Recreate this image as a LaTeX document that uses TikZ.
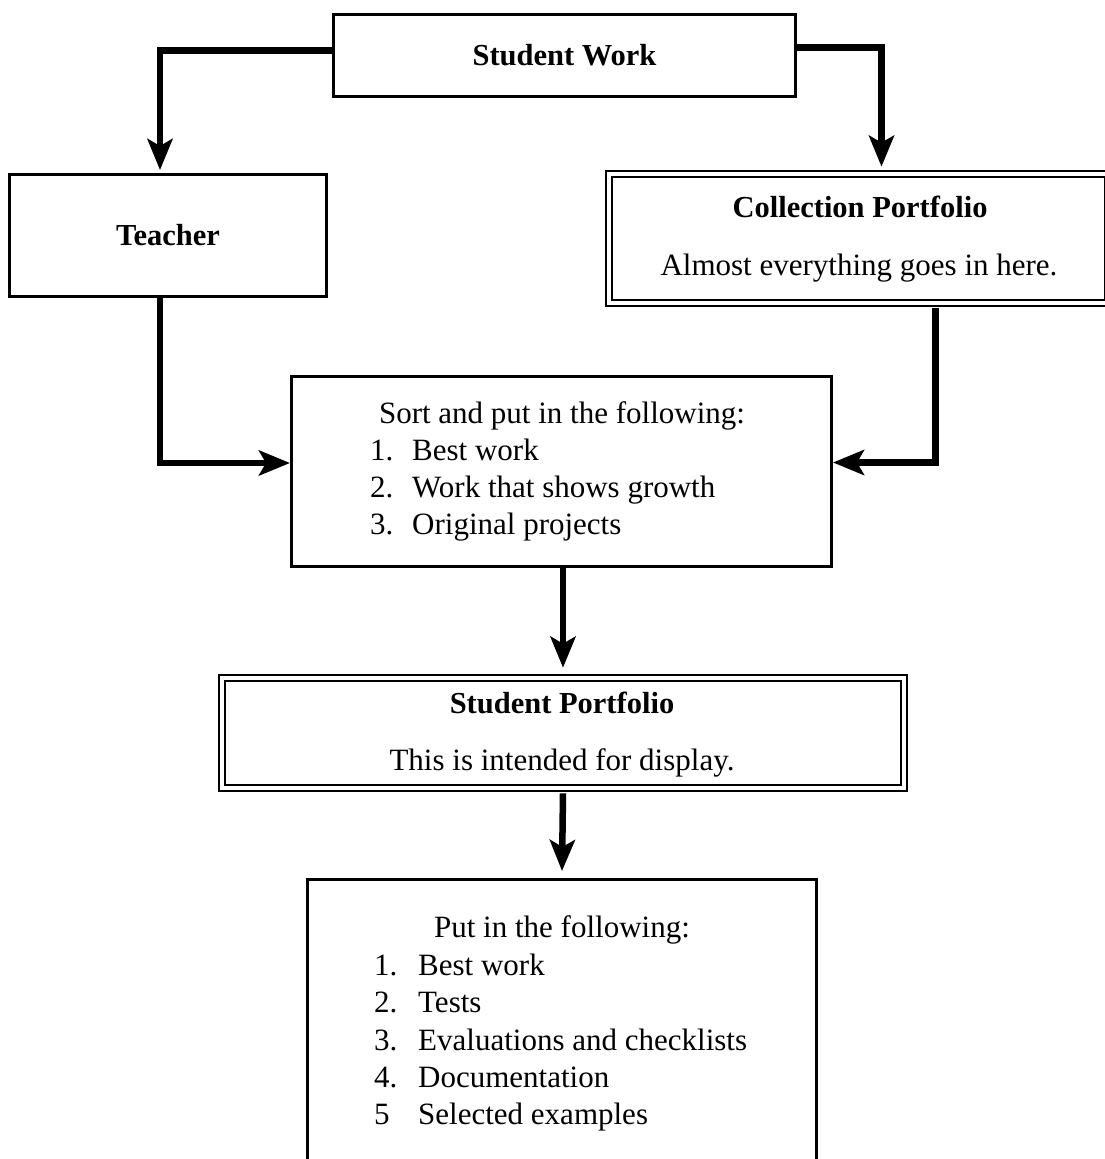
\documentclass[tikz,border=0pt]{standalone}
\usepackage{fontspec}
\setmainfont{Liberation Serif}
\usetikzlibrary{arrows.meta}
\begin{document}
\begin{tikzpicture}[x=1pt,y=-1pt,
  box/.style={draw=black, line width=3pt, rectangle, inner sep=0pt, font=\fontsize{30.5}{37}\selectfont\bfseries},
  dbox/.style={draw=black, line width=2.6pt, double=white, double distance=3.2pt, rectangle, inner sep=0pt},
  flow/.style={line width=6.5pt, -{Stealth[length=31pt,width=25pt,inset=7pt]}},
  txt/.style={font=\fontsize{31}{37}\selectfont, inner sep=0pt, anchor=base},
  ttl/.style={txt, font=\fontsize{30.5}{37}\selectfont\bfseries},
  item/.style={txt, anchor=base west}
]
\fill[white] (0,0) rectangle (1105,1159);
\useasboundingbox (0,0) rectangle (1105,1159);
\begin{scope}
\clip (0,0) rectangle (1105,1159);
% boxes
\node[box, minimum width=462pt, minimum height=82pt] (sw) at (564.5,55.5) {Student Work};
\node[box, minimum width=317pt, minimum height=122pt] (teacher) at (168,235.5) {Teacher};
\node[dbox, minimum width=499pt, minimum height=129pt] (cp) at (858.5,238.5) {};
\node[box, minimum width=540pt, minimum height=190pt] (sort) at (561.5,471.5) {};
\node[dbox, minimum width=682pt, minimum height=110pt] (spf) at (563,733) {};
\node[box, minimum width=509pt, minimum height=321pt] (put) at (562,1040) {};

% texts
\node[ttl] (cpt) at (860,217) {Collection Portfolio};
\node[txt] (cpb) at (859,275) {Almost everything goes in here.};
\node[ttl] (spt) at (562,713) {Student Portfolio};
\node[txt] (spb) at (562,770) {This is intended for display.};

\node[txt] (sortt) at (562,423) {Sort and put in the following:};
\node[item] (s1) at (370,460) {\makebox[42pt][l]{1.}Best work};
\node[item] (s2) at (370,497) {\makebox[42pt][l]{2.}Work that shows growth};
\node[item] (s3) at (370,534) {\makebox[42pt][l]{3.}Original projects};

\node[txt] (putt) at (562,937) {Put in the following:};
\node[item] (p1) at (374,975) {\makebox[44pt][l]{1.}Best work};
\node[item] (p2) at (374,1012) {\makebox[44pt][l]{2.}Tests};
\node[item] (p3) at (374,1050) {\makebox[44pt][l]{3.}Evaluations and checklists};
\node[item] (p4) at (374,1087) {\makebox[44pt][l]{4.}Documentation};
\node[item] (p5) at (374,1124) {\makebox[44pt][l]{5}Selected examples};

% connectors
\draw[flow] ([yshift=5pt]sw.west) -| ([xshift=-8pt,yshift=3pt]teacher.north);
\draw[flow] ([yshift=8pt]sw.east) -| ([xshift=23pt,yshift=6pt]cp.north);
\draw[flow] ([xshift=-8pt]teacher.south) |- ([yshift=8.5pt]sort.west);
\draw[flow] ([xshift=77pt,yshift=-4pt]cp.south) |- ([yshift=9pt]sort.east);
\draw[flow] ([xshift=1.5pt]sort.south) -- ([yshift=9pt]spf.north);
\draw[flow] ([yshift=-4pt]spf.south) -- ([yshift=7pt]put.north);
\end{scope}
\end{tikzpicture}
\end{document}
